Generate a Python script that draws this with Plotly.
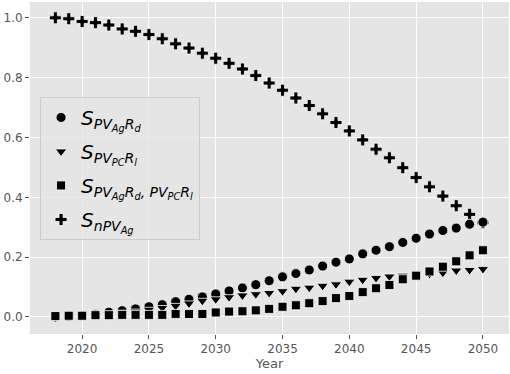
import plotly.graph_objects as go

years = list(range(2018, 2051))

s_pvag_rd = [0.000, 0.002, 0.004, 0.008, 0.016, 0.021, 0.027, 0.034, 0.041, 0.051,
             0.059, 0.067, 0.077, 0.087, 0.097, 0.108, 0.121, 0.134, 0.145, 0.157,
             0.170, 0.183, 0.194, 0.211, 0.223, 0.235, 0.249, 0.263, 0.277, 0.289,
             0.297, 0.310, 0.317]
s_pvpc_rl = [-0.002, 0.001, 0.003, 0.005, 0.010, 0.014, 0.018, 0.024, 0.030, 0.037,
             0.045, 0.054, 0.059, 0.066, 0.072, 0.076, 0.080, 0.086, 0.094, 0.098,
             0.104, 0.109, 0.118, 0.124, 0.130, 0.135, 0.138, 0.140, 0.144, 0.148,
             0.155, 0.157, 0.160]
s_both = [0.003, 0.004, 0.004, 0.006, 0.006, 0.007, 0.007, 0.007, 0.007, 0.010,
          0.010, 0.010, 0.015, 0.018, 0.019, 0.022, 0.027, 0.034, 0.039, 0.046,
          0.053, 0.063, 0.070, 0.083, 0.096, 0.107, 0.126, 0.138, 0.152, 0.168,
          0.186, 0.206, 0.223]
s_npvag = [1.000, 0.997, 0.988, 0.984, 0.976, 0.963, 0.955, 0.944, 0.930, 0.913,
           0.899, 0.882, 0.865, 0.848, 0.829, 0.807, 0.782, 0.758, 0.732, 0.707,
           0.679, 0.650, 0.622, 0.592, 0.561, 0.532, 0.499, 0.466, 0.435, 0.404,
           0.372, 0.343, 0.315]

x_ticks = [2020, 2025, 2030, 2035, 2040, 2045, 2050]
y_ticks = [0.0, 0.2, 0.4, 0.6, 0.8, 1.0]

lab1 = "<i>S<sub>PV<sub>Ag</sub>R<sub>d</sub></sub></i>"
lab2 = "<i>S<sub>PV<sub>PC</sub>R<sub>l</sub></sub></i>"
lab3 = "<i>S<sub>PV<sub>Ag</sub>R<sub>d</sub>, PV<sub>PC</sub>R<sub>l</sub></sub></i>"
lab4 = "<i>S<sub>nPV<sub>Ag</sub></sub></i>"

edge = dict(color="white", width=0.8)

fig = go.Figure()
fig.add_trace(go.Scatter(x=years, y=s_npvag, mode="markers", name=lab4, legendrank=4,
                         legendgroup="d",
                         marker=dict(symbol="cross", size=10, color="black", line=edge)))
fig.add_trace(go.Scatter(x=years, y=s_pvag_rd, mode="markers", name=lab1, legendrank=1,
                         legendgroup="a",
                         marker=dict(symbol="circle", size=10, color="black", line=edge)))
fig.add_trace(go.Scatter(x=years, y=s_pvpc_rl, mode="markers", name=lab2, legendrank=2,
                         legendgroup="b",
                         marker=dict(symbol="triangle-down", size=10, color="black", line=edge)))
fig.add_trace(go.Scatter(x=years, y=s_both, mode="markers", name=lab3, legendrank=3,
                         legendgroup="c",
                         marker=dict(symbol="square", size=9, color="black", line=edge)))

fig.update_layout(
    width=510, height=374,
    margin=dict(l=30, r=1, t=2, b=40, autoexpand=False),
    paper_bgcolor="white",
    plot_bgcolor="#E5E5E5",
    font=dict(family="DejaVu Sans", color="#555555", size=12),
    showlegend=True,
    legend=dict(x=0.021, y=0.714, xanchor="left", yanchor="top",
                bgcolor="rgba(229,229,229,0.8)", bordercolor="#CCCCCC", borderwidth=1,
                font=dict(family="DejaVu Sans", size=20, color="black"),
                tracegroupgap=5),
)
fig.update_xaxes(range=[2016.1, 2051.95], tickvals=x_ticks, ticktext=[str(v) for v in x_ticks],
                 showgrid=True, gridcolor="white", gridwidth=1, zeroline=False, automargin=False,
                 ticks="outside", ticklen=4, tickcolor="#555555",
                 title=dict(text="Year", font=dict(size=13, color="#555555"), standoff=3))
fig.update_yaxes(range=[-0.057, 1.053], tickvals=y_ticks, ticktext=[f"{v:.1f}" for v in y_ticks],
                 showgrid=True, gridcolor="white", gridwidth=1, zeroline=False, automargin=False,
                 ticks="outside", ticklen=4, tickcolor="#555555")

fig.write_html("out.html", config={"displayModeBar": False},
               post_script="document.body.style.margin='0';")
